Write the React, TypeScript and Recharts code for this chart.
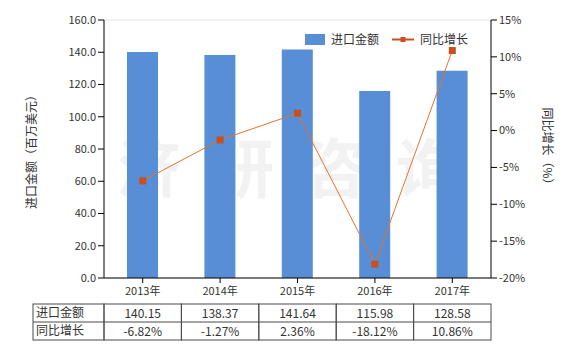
import React from 'react';
import { ComposedChart, Bar, Line, XAxis, YAxis, CartesianGrid, Customized } from 'recharts';

const years = ['2013年', '2014年', '2015年', '2016年', '2017年'];
const importValues = [140.15, 138.37, 141.64, 115.98, 128.58];
const growthValues = [-6.82, -1.27, 2.36, -18.12, 10.86];
const leftTicks = [0, 20, 40, 60, 80, 100, 120, 140, 160];
const rightTicks = [-20, -15, -10, -5, 0, 5, 10, 15];
const seriesNames = ['进口金额', '同比增长'];
const watermark = ['济', '研', '咨', '询'];

const W = 580;
const H = 350;
const M = { top: 20, right: 29, bottom: 0, left: 44 };
const YW = 60;
const XH = 72;
const PLOT_L = M.left + YW;
const PLOT_R = W - M.right - YW;
const PLOT_B = H - M.bottom - XH;
const BAND = (PLOT_R - PLOT_L) / years.length;
const FONT = '"Noto Sans CJK SC", "Noto Sans", sans-serif';
const BAR_COLOR = '#578ed6';
const LINE_COLOR = '#e0742f';
const MARK_COLOR = '#c9501c';
const TEXT = '#333';
const BORDER = '#4a4a4a';
const ROW1 = 304;
const ROW2 = 322;
const ROW3 = 340;
const TABLE_L = 33;

const data = years.map((y, i) => ({ year: y, value: importValues[i], growth: growthValues[i] }));

const XTick = (props: any) => {
  const { x, payload, index } = props;
  const i = index as number;
  const l = x - BAND / 2;
  return (
    <g>
      <text x={x} y={PLOT_B + 17} textAnchor="middle" fontSize={11} fill={TEXT} fontFamily={FONT}>
        {payload.value}
      </text>
      {i === 0 && (
        <g>
          <rect x={TABLE_L} y={ROW1} width={l - TABLE_L} height={ROW3 - ROW1} fill="none" stroke={BORDER} />
          <line x1={TABLE_L} x2={l} y1={ROW2} y2={ROW2} stroke={BORDER} />
          <text x={TABLE_L + 3} y={ROW1 + 13} fontSize={12} fill={TEXT} fontFamily={FONT}>{seriesNames[0]}</text>
          <text x={TABLE_L + 3} y={ROW2 + 13} fontSize={12} fill={TEXT} fontFamily={FONT}>{seriesNames[1]}</text>
        </g>
      )}
      <rect x={l} y={ROW1} width={BAND} height={ROW3 - ROW1} fill="none" stroke={BORDER} />
      <line x1={l} x2={l + BAND} y1={ROW2} y2={ROW2} stroke={BORDER} />
      <text x={x} y={ROW1 + 14} textAnchor="middle" fontSize={12} fill={TEXT} fontFamily={FONT}>
        {importValues[i].toFixed(2)}
      </text>
      <text x={x} y={ROW2 + 14} textAnchor="middle" fontSize={12} fill={TEXT} fontFamily={FONT}>
        {growthValues[i].toFixed(2) + '%'}
      </text>
    </g>
  );
};

const Watermark = () => (
  <g>
    {watermark.map((c, i) => (
      <text
        key={c}
        x={149 + i * 93}
        y={192}
        textAnchor="middle"
        fontSize={64}
        fontWeight="bold"
        fontFamily={FONT}
        fill="#e8e8e8"
        fillOpacity={0.55}
      >
        {c}
      </text>
    ))}
  </g>
);

const LegendSvg = () => (
  <g fontFamily={FONT} fontSize={12} fill={TEXT}>
    <rect x={305} y={34} width={20} height={11} fill={BAR_COLOR} />
    <text x={331} y={44}>{seriesNames[0]}</text>
    <line x1={392} x2={414} y1={39.5} y2={39.5} stroke={MARK_COLOR} strokeWidth={2} />
    <rect x={400.5} y={37} width={5} height={5} fill={MARK_COLOR} />
    <text x={420} y={44}>{seriesNames[1]}</text>
  </g>
);

const SquareDot = (props: any) => {
  const { cx, cy } = props;
  if (cx == null || cy == null) return null;
  return <rect x={cx - 3.5} y={cy - 3.5} width={7} height={7} fill={MARK_COLOR} />;
};

export default function App() {
  return (
    <div style={{ position: 'absolute', left: 0, top: 0, width: W, height: H, background: '#fff' }}>
      <ComposedChart width={W} height={H} data={data} margin={M}>
        <CartesianGrid vertical={false} stroke="#e6e6e0" />
        <XAxis
          dataKey="year"
          height={XH}
          tick={<XTick />}
          tickSize={5}
          axisLine={{ stroke: '#000' }}
          tickLine={{ stroke: '#000' }}
          interval={0}
        />
        <YAxis
          yAxisId="left"
          width={YW}
          domain={[0, 160]}
          ticks={leftTicks}
          tickFormatter={(v: number) => v.toFixed(1)}
          tick={{ fontSize: 11, fill: TEXT, fontFamily: FONT }}
          axisLine={{ stroke: '#000' }}
          tickLine={{ stroke: '#000' }}
          tickSize={6}
          label={{
            value: '进口金额（百万美元）',
            angle: -90,
            position: 'insideLeft',
            offset: -12,
            style: { fontSize: 12, fill: TEXT, fontFamily: FONT, textAnchor: 'middle' },
          }}
        />
        <YAxis
          yAxisId="right"
          orientation="right"
          width={YW}
          domain={[-20, 15]}
          ticks={rightTicks}
          tickFormatter={(v: number) => `${v}%`}
          tick={{ fontSize: 11, fill: TEXT, fontFamily: FONT }}
          axisLine={{ stroke: '#000' }}
          tickLine={{ stroke: '#000' }}
          tickSize={6}
          label={{
            value: '同比增长（%）',
            angle: 90,
            position: 'insideRight',
            offset: 4,
            style: { fontSize: 12, fill: TEXT, fontFamily: FONT, textAnchor: 'middle' },
          }}
        />
        <Bar yAxisId="left" dataKey="value" name={seriesNames[0]} fill={BAR_COLOR} barSize={31} isAnimationActive={false} />
        <Customized component={Watermark} />
        <Line
          yAxisId="right"
          dataKey="growth"
          name={seriesNames[1]}
          stroke={LINE_COLOR}
          strokeWidth={1}
          dot={<SquareDot />}
          activeDot={false}
          isAnimationActive={false}
        />
        <Customized component={LegendSvg} />
      </ComposedChart>
    </div>
  );
}
